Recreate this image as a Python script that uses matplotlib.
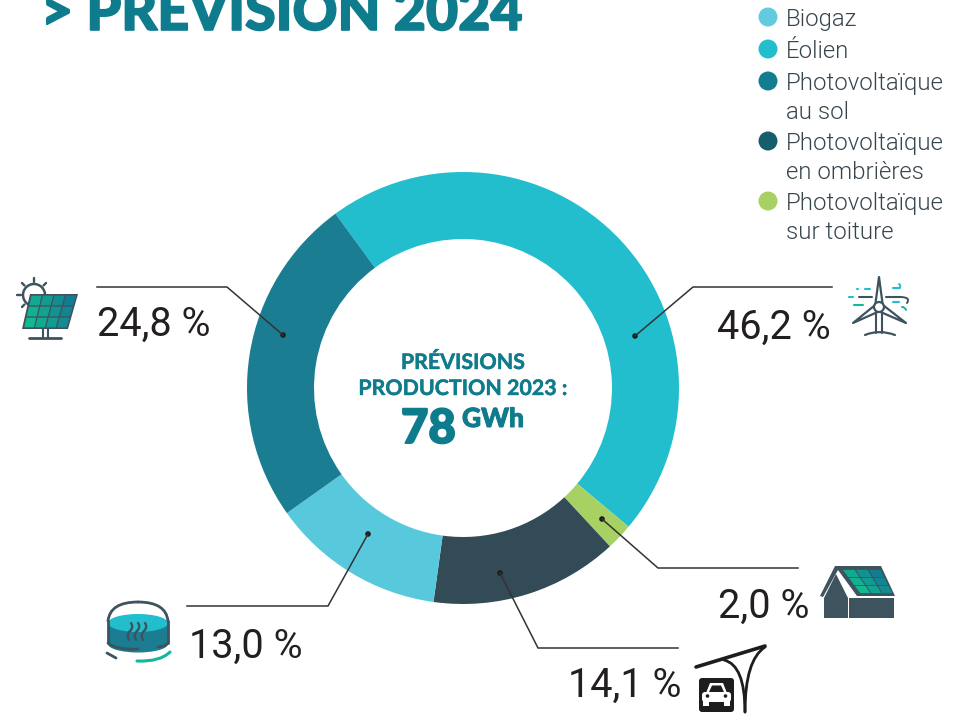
import numpy as np
import matplotlib
matplotlib.use("Agg")
import matplotlib.pyplot as plt
import matplotlib.patheffects as pe
from matplotlib.patches import Circle, Ellipse, FancyBboxPatch, PathPatch, Polygon, Rectangle
from matplotlib.path import Path

# chart data (clockwise from the top-left edge of the wind slice)
slices = ["Éolien", "Photovoltaïque sur toiture", "Photovoltaïque en ombrières", "Biogaz", "Photovoltaïque au sol"]
values = [46.2, 2.0, 14.1, 13.0, 24.8]
value_labels = ["46,2 %", "2,0 %", "14,1 %", "13,0 %", "24,8 %"]
slice_colors = ["#22BECD", "#A8D164", "#334B56", "#58C9DD", "#1A7D92"]

legend_names = ["Biogaz", "Éolien", "Photovoltaïque\nau sol", "Photovoltaïque\nen ombrières", "Photovoltaïque\nsur toiture"]
legend_colors = ["#62CBE0", "#22BECD", "#127C90", "#155E6B", "#A8D164"]

TEAL = "#0F7C8E"
SLATE = "#3F535E"
INK = "#231F20"

fig = plt.figure(figsize=(9.64, 7.15), dpi=100)
ax = fig.add_axes([0, 0, 1, 1])
ax.pie(values, colors=slice_colors, startangle=-126.2, counterclock=True,
       radius=216, center=(463, 388), wedgeprops=dict(width=67, linewidth=0))
# pixel coordinates, y downwards (so the pie's counterclock is clockwise on screen)
ax.set_xlim(0, 964)
ax.set_ylim(715, 0)
ax.set_aspect("equal")
ax.axis("off")


def heavy(w):
    return [pe.withStroke(linewidth=w, foreground=TEAL)]


ax.text(41, 30, "> PRÉVISION 2024", color=TEAL, family="Lato", weight=900, fontsize=40,
        va="baseline", ha="left", path_effects=heavy(1.2))

# legend
legend_y = [17, 49, 81, 141, 201]
for name, col, y in zip(legend_names, legend_colors, legend_y):
    ax.add_patch(Circle((768, y), 9.5, color=col, lw=0))
    for i, part in enumerate(name.split("\n")):
        ax.text(786, y + 9 + i * 29, part, color="#37454E", family="Roboto", weight=300,
                fontsize=17.3, va="baseline")

# centre text
ax.text(463, 369, "PRÉVISIONS", color=TEAL, family="Lato", weight="bold", fontsize=15.4,
        ha="center", va="baseline", path_effects=heavy(0.3))
ax.text(463, 395, "PRODUCTION 2023 :", color=TEAL, family="Lato", weight="bold", fontsize=15.4,
        ha="center", va="baseline", path_effects=heavy(0.3))
ax.text(401, 443, "78", color=TEAL, family="Lato", weight=900, fontsize=34, va="baseline",
        path_effects=heavy(1.4))
ax.text(462, 427, "GWh", color=TEAL, family="Lato", weight=900, fontsize=19, va="baseline",
        path_effects=heavy(0.7))

# leaders and value labels
leaders = [
    [(832, 287), (693, 287), (635, 336)],
    [(798, 568), (658, 568), (602, 519)],
    [(678, 648), (538, 648), (500, 573)],
    [(187, 606), (328, 606), (368, 534)],
    [(97, 287), (227, 287), (283, 335)],
]
label_pos = [(717, 339), (718, 618), (568, 697), (189, 658), (97, 336)]
for pts, lab, pos in zip(leaders, value_labels, label_pos):
    xs, ys = zip(*pts)
    ax.plot(xs, ys, color="#333333", lw=1.1, solid_joinstyle="miter")
    ax.add_patch(Circle(pts[-1], 2.8, color="#1d1d1b", lw=0))
    ax.text(pos[0], pos[1], lab, color=INK, family="Roboto", fontsize=28.5, va="baseline")


def cell_grid(corners, nx, ny, c0=(16, 185, 145), c1=(18, 125, 145), gap=0.06):
    # corners: tl, tr, br, bl; cells shaded from green (left) to teal (right)
    tl, tr, br, bl = [np.array(c, float) for c in corners]
    for j in range(ny):
        for i in range(nx):
            u0, u1 = (i + gap) / nx, (i + 1 - gap) / nx
            v0, v1 = (j + gap) / ny, (j + 1 - gap) / ny
            def p(u, v):
                return (1 - v) * ((1 - u) * tl + u * tr) + v * ((1 - u) * bl + u * br)
            t = (i / max(nx - 1, 1)) * 0.75 + (0.25 - 0.25 * j / max(ny - 1, 1))
            col = [(a + (b - a) * t) / 255 for a, b in zip(c0, c1)]
            ax.add_patch(Polygon([p(u0, v0), p(u1, v0), p(u1, v1), p(u0, v1)], color=col, lw=0))


def stroke(pts, color=SLATE, lw=1.8):
    xs, ys = zip(*pts)
    ax.plot(xs, ys, color=color, lw=lw, solid_capstyle="round")


def curve(pts, color=SLATE, lw=1.8):
    codes = [Path.MOVETO] + [Path.CURVE3] * (len(pts) - 1)
    ax.add_patch(PathPatch(Path(pts, codes), fill=False, edgecolor=color, lw=lw, capstyle="round"))


# solar panel icon
ax.add_patch(Circle((34, 295), 11, fill=False, edgecolor=SLATE, lw=1.8))
for a in np.deg2rad([90, 45, 135, 180, 225]):
    stroke([(34 + 13.5 * np.cos(a), 295 - 13.5 * np.sin(a)), (34 + 17 * np.cos(a), 295 - 17 * np.sin(a))], lw=1.7)
ax.add_patch(Polygon([(30, 294), (78, 294), (68, 329), (22, 329)], color=SLATE, lw=0))
cell_grid([(31, 295), (77, 295), (67, 328), (23.5, 328)], 4, 3)
stroke([(43, 329), (43, 338)], lw=1.5)
stroke([(48, 329), (48, 338)], lw=1.5)
stroke([(29, 338), (61, 338)], lw=2)

# wind turbine icon
cx, cy = 879, 307
for tip in [(879, 277), (853, 323), (906, 323)]:
    t = np.array(tip, float) - (cx, cy)
    n = np.array([-t[1], t[0]]) / np.hypot(*t) * 4
    ax.add_patch(Polygon([(cx, cy) + n, tip, (cx, cy) - n], fill=False, edgecolor=SLATE, lw=1.6, joinstyle="round"))
ax.add_patch(Circle((cx, cy), 5, facecolor="white", edgecolor=SLATE, lw=1.6, zorder=4))
stroke([(876, 313), (876, 333)], lw=1.5)
stroke([(882, 313), (882, 333)], lw=1.5)
curve([(865, 335), (879, 329), (895, 335)], lw=1.6)
stroke([(859, 297), (872, 297)], lw=1.5)
stroke([(886, 297), (900, 297)], lw=1.5)
for seg in [[(857, 289), (858, 289)], [(865, 289), (870, 289)], [(849, 297), (853, 297)],
            [(893, 288), (899, 288)], [(893, 302), (899, 302)]]:
    stroke(seg, color="#22BECD", lw=1.5)
stroke([(854, 305), (863, 305)], color="#12B89A", lw=1.5)
curve([(900, 288), (901, 285), (899, 284)], color="#22BECD", lw=1.4)
curve([(900, 297), (911, 297), (907, 303)], lw=1.4)
curve([(902, 307), (905, 307), (906, 310)], color="#12B89A", lw=1.4)

# house icon
ax.add_patch(Polygon([(820, 596), (835, 566), (881, 566), (895, 596), (857, 596), (838, 570), (823, 597)],
                     color=SLATE, lw=0))
ax.add_patch(Polygon([(824, 598), (836, 574), (848, 598), (848, 618), (824, 618)], color=SLATE, lw=0))
cell_grid([(842, 569.5), (881, 569.5), (893, 593.5), (860, 593.5)], 3, 3, gap=0.05)
ax.add_patch(Rectangle((849, 598), 45, 20, color=SLATE, lw=0))

# carport icon
stroke([(696, 667), (765, 646)], color="#1d1d1b", lw=2.6)
curve([(724, 660), (745, 665), (745, 712)], color="#1d1d1b", lw=2.0)
curve([(765, 647), (745, 660), (745, 712)], color="#1d1d1b", lw=2.0)
ax.add_patch(FancyBboxPatch((699, 678), 35, 34, boxstyle="round,pad=0,rounding_size=3",
                            color="#1d1d1b", lw=0))
ax.add_patch(FancyBboxPatch((702, 692), 29, 10, boxstyle="round,pad=0,rounding_size=3", color="white", lw=0))
ax.add_patch(Polygon([(706, 693), (710, 683), (723, 683), (727, 693)], color="white", lw=0))
ax.add_patch(Polygon([(709, 692), (712, 685.5), (721, 685.5), (724, 692)], color="#1d1d1b", lw=0))
ax.add_patch(Rectangle((703, 701), 6, 4.5, color="white", lw=0))
ax.add_patch(Rectangle((724, 701), 6, 4.5, color="white", lw=0))
ax.add_patch(Circle((707.5, 696), 1.8, color="#1d1d1b", lw=0))
ax.add_patch(Circle((725.5, 696), 1.8, color="#1d1d1b", lw=0))

# biogas tank icon
ax.add_patch(Rectangle((108, 622), 60, 22, color="#1A7D92", lw=0))
ax.add_patch(Ellipse((138, 644), 60, 17, color="#1A7D92", lw=0))
ax.add_patch(Ellipse((138, 623), 60, 18, color="#22BECD", lw=0))
curve([(108, 621), (110, 602), (138, 602)], lw=2)
curve([(138, 602), (166, 602), (168, 621)], lw=2)
stroke([(108, 621), (108, 643)], lw=2)
stroke([(168, 621), (168, 643)], lw=2)
curve([(108, 643), (115, 650), (138, 649)], lw=2)
curve([(158, 647), (164, 647), (168, 643)], lw=2)
for dx in [0, 7, 14]:
    curve([(131 + dx, 623), (134 + dx, 627), (130 + dx, 631)], lw=1.7)
    curve([(130 + dx, 631), (126 + dx, 635), (129 + dx, 640)], lw=1.7)
curve([(137, 661), (160, 662), (170, 652)], color="#12B89A", lw=2.2)
stroke([(107, 653), (116, 658)], lw=2)

fig.savefig("out.png", dpi=100)
